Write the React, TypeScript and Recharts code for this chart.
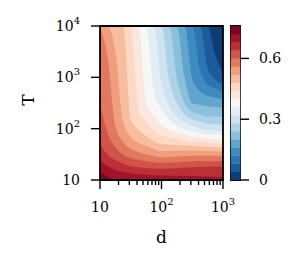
import React from 'react';
import {
  ComposedChart,
  Area,
  XAxis,
  YAxis,
  ReferenceArea,
  Label,
  BarChart,
  Bar,
} from 'recharts';

// grid of d (columns) and T (rows), log spaced
const dValues = [10, 13.34, 17.78, 23.71, 31.62, 42.17, 56.23, 74.99, 100, 133.4, 177.8, 237.1, 316.2, 421.7, 562.3, 749.9, 1000];
const tValues = [10, 17.78, 31.62, 56.23, 100, 177.8, 316.2, 562.3, 1000, 1778, 3162, 5623, 10000];

// z values, one list per d column (T ascending)
const zByD = [
  [0.75, 0.70, 0.66, 0.635, 0.62, 0.608, 0.60, 0.597, 0.595, 0.594, 0.593, 0.592, 0.59],
  [0.733, 0.684, 0.638, 0.611, 0.594, 0.582, 0.572, 0.566, 0.563, 0.561, 0.559, 0.557, 0.555],
  [0.72, 0.668, 0.617, 0.586, 0.563, 0.547, 0.535, 0.527, 0.523, 0.521, 0.52, 0.519, 0.518],
  [0.717, 0.657, 0.598, 0.559, 0.531, 0.512, 0.497, 0.491, 0.487, 0.485, 0.483, 0.482, 0.48],
  [0.714, 0.646, 0.58, 0.532, 0.498, 0.472, 0.454, 0.448, 0.445, 0.443, 0.442, 0.441, 0.44],
  [0.712, 0.64, 0.57, 0.515, 0.477, 0.449, 0.429, 0.419, 0.413, 0.41, 0.407, 0.405, 0.403],
  [0.71, 0.635, 0.56, 0.498, 0.456, 0.425, 0.403, 0.388, 0.38, 0.375, 0.37, 0.367, 0.365],
  [0.708, 0.632, 0.55, 0.482, 0.433, 0.40, 0.375, 0.358, 0.346, 0.338, 0.332, 0.328, 0.326],
  [0.706, 0.63, 0.54, 0.465, 0.411, 0.374, 0.348, 0.328, 0.313, 0.303, 0.296, 0.291, 0.288],
  [0.704, 0.632, 0.542, 0.46, 0.393, 0.344, 0.314, 0.293, 0.277, 0.266, 0.258, 0.253, 0.25],
  [0.702, 0.635, 0.545, 0.455, 0.375, 0.315, 0.28, 0.258, 0.24, 0.228, 0.22, 0.214, 0.21],
  [0.70, 0.638, 0.548, 0.448, 0.356, 0.286, 0.24, 0.216, 0.20, 0.189, 0.181, 0.176, 0.172],
  [0.698, 0.64, 0.55, 0.44, 0.336, 0.257, 0.198, 0.173, 0.158, 0.148, 0.141, 0.136, 0.133],
  [0.696, 0.642, 0.55, 0.435, 0.322, 0.247, 0.193, 0.158, 0.13, 0.113, 0.1, 0.091, 0.086],
  [0.694, 0.643, 0.55, 0.428, 0.307, 0.237, 0.187, 0.14, 0.095, 0.075, 0.06, 0.048, 0.04],
  [0.692, 0.644, 0.55, 0.419, 0.304, 0.236, 0.184, 0.128, 0.07, 0.05, 0.036, 0.026, 0.02],
  [0.69, 0.645, 0.55, 0.41, 0.30, 0.235, 0.18, 0.11, 0.045, 0.03, 0.02, 0.012, 0.006],
];

const levels = [0, 0.04, 0.08, 0.12, 0.16, 0.2, 0.24, 0.28, 0.32, 0.36, 0.4, 0.44, 0.48, 0.52, 0.56, 0.6, 0.64, 0.68, 0.72, 0.76];

const xTicks = [10, 20, 30, 40, 50, 60, 70, 80, 90, 100, 200, 300, 400, 500, 600, 700, 800, 900, 1000];
const yTicks = [10, 100, 1000, 10000];
const cbarTicks = [0, 0.3, 0.6];

// RdBu_r anchor colours
const RDBU_R = ['#053061', '#2166ac', '#4393c3', '#92c5de', '#d1e5f0', '#f7f7f7', '#fddbc7', '#f4a582', '#d6604d', '#b2182b', '#67001f'];

const FONT = '"DejaVu Serif", serif';

function rdbu(t: number) {
  const p = Math.min(Math.max(t, 0), 1) * (RDBU_R.length - 1);
  const i = Math.min(Math.floor(p), RDBU_R.length - 2);
  const f = p - i;
  const a = RDBU_R[i], b = RDBU_R[i + 1];
  const ch = (s: string, k: number) => parseInt(s.slice(1 + 2 * k, 3 + 2 * k), 16);
  const c = [0, 1, 2].map(k => Math.round(ch(a, k) + (ch(b, k) - ch(a, k)) * f));
  return `rgb(${c[0]},${c[1]},${c[2]})`;
}

const nBands = levels.length - 1;
const bandColor = (k: number) => rdbu((k + 0.5) / nBands);

// T where the column drops below the level (column is decreasing in T)
function boundaryT(col: number[], level: number) {
  if (col[0] < level) return tValues[0];
  let j = 0;
  while (j < col.length - 1 && col[j + 1] >= level) j++;
  if (j === col.length - 1) return tValues[j];
  const f = (col[j] - level) / (col[j] - col[j + 1]);
  return tValues[j] * Math.pow(tValues[j + 1] / tValues[j], f);
}

const contourData = dValues.map((d, i) => {
  const row: Record<string, number> = { d };
  for (let k = 0; k < nBands; k++) row['b' + k] = boundaryT(zByD[i], levels[k]);
  return row;
});

const cbarRow: Record<string, number | string> = { name: 'cbar' };
for (let k = 0; k < nBands; k++) cbarRow['s' + k] = levels[k + 1] - levels[k];
const cbarData = [cbarRow];

function XTick(props: any) {
  const { x, y, payload } = props;
  const lg = Math.log10(payload.value);
  const exp = Math.round(lg);
  const major = Math.abs(lg - exp) < 1e-6;
  return (
    <g>
      <line x1={x} x2={x} y1={y} y2={y + (major ? 9 : 5)} stroke="#000" strokeWidth={1.4} />
      {major && (
        <text x={x} y={y + 32} textAnchor="middle" fontFamily={FONT} fontSize={14} fill="#000">
          10{exp > 1 && <tspan dy={-7} fontSize={10}>{exp}</tspan>}
        </text>
      )}
    </g>
  );
}

function YTick(props: any) {
  const { x, y, payload } = props;
  const exp = Math.round(Math.log10(payload.value));
  return (
    <g>
      <line x1={x - 9} x2={x} y1={y} y2={y} stroke="#000" strokeWidth={1.4} />
      <text x={x - 20} y={y + 5} textAnchor="end" fontFamily={FONT} fontSize={14} fill="#000">
        10{exp > 1 && <tspan dy={-7} fontSize={10}>{exp}</tspan>}
      </text>
    </g>
  );
}

function CTick(props: any) {
  const { x, y, payload } = props;
  return (
    <g>
      <line x1={x} x2={x + 9} y1={y} y2={y} stroke="#000" strokeWidth={1.4} />
      <text x={x + 19} y={y + 5} textAnchor="start" fontFamily={FONT} fontSize={14} fill="#000">
        {payload.value === 0 ? '0' : payload.value.toFixed(1)}
      </text>
    </g>
  );
}

export default function App() {
  return (
    <div style={{ position: 'absolute', left: 0, top: 0, width: 306, height: 267, background: '#fff' }}>
      <div style={{ position: 'absolute', left: 0, top: 0 }}>
        <ComposedChart
          width={306}
          height={267}
          data={contourData}
          margin={{ top: 26, right: 83, bottom: 37, left: 25 }}
        >
          <XAxis
            dataKey="d"
            type="number"
            scale="log"
            domain={[10, 1000]}
            allowDataOverflow
            ticks={xTicks}
            interval={0}
            tickLine={false}
            axisLine={false}
            tickSize={0}
            tickMargin={0}
            tick={XTick}
            height={50}
          >
            <Label
              content={(p: any) => (
                <text
                  x={p.viewBox.x + p.viewBox.width / 2}
                  y={p.viewBox.y + 63}
                  textAnchor="middle"
                  fontFamily={FONT}
                  fontSize={17}
                  fill="#000"
                >
                  d
                </text>
              )}
            />
          </XAxis>
          <YAxis
            type="number"
            scale="log"
            domain={[10, 10000]}
            allowDataOverflow
            ticks={yTicks}
            interval={0}
            tickLine={false}
            axisLine={false}
            tickSize={0}
            tickMargin={0}
            tick={YTick}
            width={75}
          >
            <Label
              content={(p: any) => {
                const cx = p.viewBox.x + 3;
                const cy = p.viewBox.y + p.viewBox.height / 2 - 3;
                return (
                  <text
                    x={cx}
                    y={cy}
                    transform={`rotate(-90 ${cx} ${cy})`}
                    textAnchor="middle"
                    dominantBaseline="central"
                    fontFamily={FONT}
                    fontSize={17}
                    fill="#000"
                  >
                    T
                  </text>
                );
              }}
            />
          </YAxis>
          {levels.slice(0, -1).map((lv, k) => (
            <Area
              key={'b' + k}
              dataKey={'b' + k}
              type="monotone"
              baseValue={10}
              stroke="none"
              fill={bandColor(k)}
              fillOpacity={1}
              dot={false}
              activeDot={false}
              isAnimationActive={false}
            />
          ))}
          <ReferenceArea
            x1={10}
            x2={1000}
            y1={10}
            y2={10000}
            fill="none"
            fillOpacity={0}
            stroke="#000"
            strokeWidth={1.8}
            ifOverflow="visible"
          />
        </ComposedChart>
      </div>
      <div style={{ position: 'absolute', left: 0, top: 0 }}>
        <BarChart
          width={306}
          height={267}
          data={cbarData}
          margin={{ top: 26, right: 16, bottom: 87, left: 231 }}
          barCategoryGap={0}
        >
          <XAxis dataKey="name" hide />
          <YAxis
            type="number"
            orientation="right"
            domain={[0, 0.76]}
            allowDataOverflow
            ticks={cbarTicks}
            interval={0}
            tickLine={false}
            axisLine={false}
            tickSize={0}
            tickMargin={0}
            tick={CTick}
            width={50}
          />
          {levels.slice(0, -1).map((lv, k) => (
            <Bar
              key={'s' + k}
              dataKey={'s' + k}
              stackId="cb"
              fill={bandColor(k)}
              stroke={bandColor(k)}
              strokeWidth={0.4}
              isAnimationActive={false}
            />
          ))}
          <ReferenceArea
            y1={0}
            y2={0.76}
            fill="none"
            fillOpacity={0}
            stroke="#000"
            strokeWidth={1.8}
            ifOverflow="visible"
          />
        </BarChart>
      </div>
    </div>
  );
}
